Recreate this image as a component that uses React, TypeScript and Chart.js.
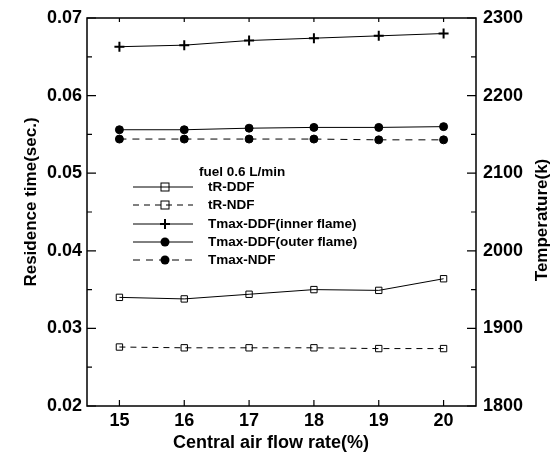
import React, { useEffect, useRef } from "react";
import { Chart, registerables } from "chart.js";

Chart.register(...registerables);

const flowRates = [15, 16, 17, 18, 19, 20];
const trDDF = [0.034, 0.0338, 0.0344, 0.035, 0.0349, 0.0364];
const trNDF = [0.0276, 0.0275, 0.0275, 0.0275, 0.0274, 0.0274];
const tmaxInner = [2263, 2265, 2271, 2274, 2277, 2280];
const tmaxOuter = [2156, 2156, 2158, 2159, 2159, 2160];
const tmaxNDF = [2144, 2144, 2144, 2144, 2143, 2143];

const leftTicks = [0.02, 0.03, 0.04, 0.05, 0.06, 0.07];
const rightTicks = [1800, 1900, 2000, 2100, 2200, 2300];

const legendTitle = "fuel 0.6 L/min";
const seriesLabels = [
  "tR-DDF",
  "tR-NDF",
  "Tmax-DDF(inner flame)",
  "Tmax-DDF(outer flame)",
  "Tmax-NDF",
];

const FONT = "'Liberation Sans', Arial, sans-serif";

function toPts(vals: number[]) {
  return flowRates.map((x, i) => ({ x, y: vals[i] }));
}

type MarkerKind = "rect" | "cross" | "circle";

function drawMarker(ctx: CanvasRenderingContext2D, kind: MarkerKind, x: number, y: number) {
  ctx.save();
  ctx.setLineDash([]);
  ctx.strokeStyle = "#000";
  ctx.fillStyle = "#000";
  if (kind === "rect") {
    ctx.lineWidth = 1;
    ctx.strokeRect(x - 4, y - 4, 8, 8);
  } else if (kind === "cross") {
    ctx.lineWidth = 2;
    ctx.beginPath();
    ctx.moveTo(x - 5, y);
    ctx.lineTo(x + 5, y);
    ctx.moveTo(x, y - 5);
    ctx.lineTo(x, y + 5);
    ctx.stroke();
  } else {
    ctx.beginPath();
    ctx.arc(x, y, 4.5, 0, Math.PI * 2);
    ctx.fill();
  }
  ctx.restore();
}

const markerKinds: MarkerKind[] = ["rect", "rect", "cross", "circle", "circle"];
const dashes: number[][] = [[], [6, 5], [], [], [7, 6]];

const decorPlugin = {
  id: "decor",
  afterDraw(chart: any) {
    const ctx: CanvasRenderingContext2D = chart.ctx;
    const { left, right, top, bottom } = chart.chartArea;
    const xs = chart.scales.x;
    const yl = chart.scales.y;
    const yr = chart.scales.y1;
    ctx.save();
    ctx.strokeStyle = "#000";
    ctx.lineWidth = 1.5;
    ctx.strokeRect(left, top, right - left, bottom - top);
    ctx.lineWidth = 1.2;
    ctx.beginPath();
    flowRates.forEach((v) => {
      const px = xs.getPixelForValue(v);
      ctx.moveTo(px, bottom);
      ctx.lineTo(px, bottom - 6);
      ctx.moveTo(px, top);
      ctx.lineTo(px, top + 4);
    });
    for (let i = 0; i < leftTicks.length; i++) {
      const py = yl.getPixelForValue(leftTicks[i]);
      ctx.moveTo(left, py);
      ctx.lineTo(left + 9, py);
      if (i < leftTicks.length - 1) {
        const pm = yl.getPixelForValue((leftTicks[i] + leftTicks[i + 1]) / 2);
        ctx.moveTo(left, pm);
        ctx.lineTo(left + 5, pm);
      }
    }
    for (let i = 0; i < rightTicks.length; i++) {
      const py = yr.getPixelForValue(rightTicks[i]);
      ctx.moveTo(right, py);
      ctx.lineTo(right - 9, py);
      if (i < rightTicks.length - 1) {
        const pm = yr.getPixelForValue((rightTicks[i] + rightTicks[i + 1]) / 2);
        ctx.moveTo(right, pm);
        ctx.lineTo(right - 5, pm);
      }
    }
    ctx.stroke();

    ctx.fillStyle = "#000";
    ctx.font = `bold 17px ${FONT}`;
    ctx.textAlign = "center";
    ctx.textBaseline = "middle";
    ctx.save();
    ctx.translate(31, 202);
    ctx.rotate(-Math.PI / 2);
    ctx.fillText("Residence time(sec.)", 0, 0);
    ctx.restore();
    ctx.save();
    ctx.translate(542, 220);
    ctx.rotate(-Math.PI / 2);
    ctx.fillText("Temperature(k)", 0, 0);
    ctx.restore();
    ctx.font = `bold 18px ${FONT}`;
    ctx.fillText("Central air flow rate(%)", 271, 443);

    ctx.font = `bold 13.5px ${FONT}`;
    ctx.textAlign = "left";
    ctx.fillText(legendTitle, 199, 172);
    const rowsY = [187, 205, 224, 242, 260];
    seriesLabels.forEach((lab, i) => {
      const y = rowsY[i];
      ctx.save();
      ctx.lineWidth = 1;
      ctx.setLineDash(dashes[i]);
      ctx.beginPath();
      ctx.moveTo(133, y);
      ctx.lineTo(193, y);
      ctx.stroke();
      ctx.restore();
      drawMarker(ctx, markerKinds[i], 165, y);
      ctx.fillText(lab, 208, y);
    });
    ctx.restore();
  },
};

export default function App() {
  const ref = useRef<HTMLCanvasElement | null>(null);
  useEffect(() => {
    document.body.style.margin = "0";
    const canvas = ref.current;
    if (!canvas) return;
    const tickFont = { family: FONT, size: 18, weight: "bold" as const };
    const chart = new Chart(canvas, {
      type: "line",
      data: {
        datasets: [
          {
            label: seriesLabels[0],
            data: toPts(trDDF),
            yAxisID: "y",
            borderColor: "#000",
            borderWidth: 1,
            pointStyle: "rect",
            pointRadius: 4.5,
            pointBorderColor: "#000",
            pointBackgroundColor: "rgba(0,0,0,0)",
            pointBorderWidth: 1,
          },
          {
            label: seriesLabels[1],
            data: toPts(trNDF),
            yAxisID: "y",
            borderColor: "#000",
            borderWidth: 1,
            borderDash: [6, 5],
            pointStyle: "rect",
            pointRadius: 4.5,
            pointBorderColor: "#000",
            pointBackgroundColor: "rgba(0,0,0,0)",
            pointBorderWidth: 1,
          },
          {
            label: seriesLabels[2],
            data: toPts(tmaxInner),
            yAxisID: "y1",
            borderColor: "#000",
            borderWidth: 1,
            pointStyle: "cross",
            pointRadius: 5,
            pointBorderColor: "#000",
            pointBorderWidth: 2,
          },
          {
            label: seriesLabels[3],
            data: toPts(tmaxOuter),
            yAxisID: "y1",
            borderColor: "#000",
            borderWidth: 1,
            pointStyle: "circle",
            pointRadius: 4,
            pointBorderColor: "#000",
            pointBackgroundColor: "#000",
          },
          {
            label: seriesLabels[4],
            data: toPts(tmaxNDF),
            yAxisID: "y1",
            borderColor: "#000",
            borderWidth: 1,
            borderDash: [7, 6],
            pointStyle: "circle",
            pointRadius: 4,
            pointBorderColor: "#000",
            pointBackgroundColor: "#000",
          },
        ],
      },
      options: {
        responsive: false,
        animation: false,
        devicePixelRatio: 1,
        layout: { padding: { top: 18, left: 0, right: 0, bottom: 0 } },
        plugins: { legend: { display: false }, tooltip: { enabled: false } },
        scales: {
          x: {
            type: "linear",
            min: 14.5,
            max: 20.5,
            grid: { display: false, drawTicks: false },
            border: { display: false },
            afterBuildTicks: (s: any) => {
              s.ticks = flowRates.map((v) => ({ value: v }));
            },
            afterFit: (s: any) => {
              s.height = 55;
            },
            ticks: {
              font: tickFont,
              color: "#000",
              padding: 4,
              maxRotation: 0,
              autoSkip: false,
              callback: (v: any) => String(v),
            },
          },
          y: {
            type: "linear",
            position: "left",
            min: 0.02,
            max: 0.07,
            grid: { display: false, drawTicks: false },
            border: { display: false },
            afterBuildTicks: (s: any) => {
              s.ticks = leftTicks.map((v) => ({ value: v }));
            },
            afterFit: (s: any) => {
              s.width = 87;
            },
            ticks: {
              font: tickFont,
              color: "#000",
              padding: 5,
              callback: (v: any) => Number(v).toFixed(2),
            },
          },
          y1: {
            type: "linear",
            position: "right",
            min: 1800,
            max: 2300,
            grid: { display: false, drawTicks: false },
            border: { display: false },
            afterBuildTicks: (s: any) => {
              s.ticks = rightTicks.map((v) => ({ value: v }));
            },
            afterFit: (s: any) => {
              s.width = 76;
            },
            ticks: {
              font: tickFont,
              color: "#000",
              padding: 7,
              callback: (v: any) => String(v),
            },
          },
        },
      },
      plugins: [decorPlugin],
    });
    return () => chart.destroy();
  }, []);
  return (
    <div style={{ width: 552, height: 461, background: "#fff" }}>
      <canvas ref={ref} width={552} height={461} style={{ display: "block" }} />
    </div>
  );
}
